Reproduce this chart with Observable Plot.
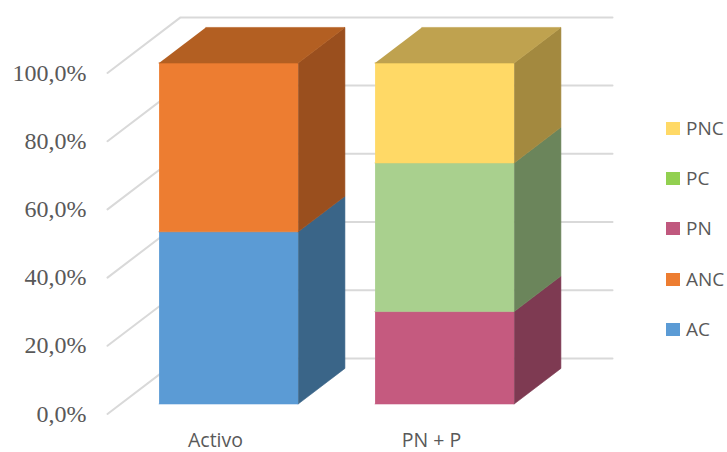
<!DOCTYPE html>
<html>
<head>
<meta charset="utf-8">
<script src="https://cdn.jsdelivr.net/npm/d3@7"></script>
<script src="https://cdn.jsdelivr.net/npm/@observablehq/plot@0.6"></script>
<style>
  body { margin: 0; background: #fff; }
  #chart { position: relative; width: 727px; height: 452px; overflow: hidden; }
  #chart svg { position: absolute; left: 0; top: 0; }
  .item { position: absolute; left: 666px; display: flex; align-items: center; white-space: nowrap;
          font-family: "Open Sans", sans-serif; font-size: 19px; color: #595959; line-height: 1; }
  .sw { width: 14px; height: 13px; margin-right: 6px; flex: none; }
</style>
</head>
<body>
<div id="chart"></div>
<script>
// Stacked shares (%) per category
const categories = ["Activo", "PN + P"];
const seriesNames = ["AC", "ANC", "PN", "PC", "PNC"];
const seriesCategory = ["Activo", "Activo", "PN + P", "PN + P", "PN + P"];
const seriesShare = [50.5, 49.5, 27.1, 43.6, 29.3];

// Face shading for each series: front, right side, top
const frontColors = ["#5B9BD5", "#ED7D31", "#C55A7F", "#A9D08E", "#FFD966"];
const sideColors = ["#3A6588", "#9A4F1E", "#7E3A52", "#6B855B", "#A3893F"];
const topColors = ["#4A7DAD", "#B35F22", "#9D4866", "#87A772", "#BFA24F"];
const legendColors = ["#5B9BD5", "#ED7D31", "#C0587E", "#92D050", "#FFD966"];

const tickValues = [0, 20, 40, 60, 80, 100];

// Oblique projection: depth d in [0,1] shifts right and up in data units
const DEPTH_X = 0.338, DEPTH_Y = 16.3;
const D_FRONT = 0.18, D_BACK = 0.82, HALF = 0.322;
const proj = (x, v, d) => ({x: x + d * DEPTH_X, y: v + d * DEPTH_Y});

// Gridlines: diagonal on the side wall, then across the back wall
const grid = [];
tickValues.forEach((v) => {
  [[0, 0], [0, 1], [categories.length, 1]].forEach(([x, d]) => {
    grid.push({id: "g" + v, ...proj(x, v, d)});
  });
});

// Polygons for each stacked segment
const faces = [];
const base = {};
seriesNames.forEach((name, i) => {
  const cat = seriesCategory[i];
  const c = categories.indexOf(cat) + 0.5;
  const y0 = base[cat] || 0;
  const y1 = y0 + seriesShare[i];
  base[cat] = y1;
  const isTop = !seriesCategory.some((k, j) => j > i && k === cat);
  const add = (key, color, pts) => pts.forEach(([x, v, d]) => faces.push({id: name + key, color, ...proj(x, v, d)}));
  add("front", frontColors[i], [[c - HALF, y0, D_FRONT], [c + HALF, y0, D_FRONT], [c + HALF, y1, D_FRONT], [c - HALF, y1, D_FRONT]]);
  add("side", sideColors[i], [[c + HALF, y0, D_FRONT], [c + HALF, y0, D_BACK], [c + HALF, y1, D_BACK], [c + HALF, y1, D_FRONT]]);
  if (isTop) add("top", topColors[i], [[c - HALF, y1, D_FRONT], [c + HALF, y1, D_FRONT], [c + HALF, y1, D_BACK], [c - HALF, y1, D_BACK]]);
});

const fmt = (v) => v.toFixed(1).replace(".", ",") + "%";

const chart = Plot.plot({
  width: 727,
  height: 452,
  marginLeft: 107,
  marginRight: 188,
  marginTop: 72.5,
  marginBottom: 38.5,
  style: {fontFamily: "'Open Sans', sans-serif", background: "#fff"},
  x: {type: "linear", domain: [0, categories.length], axis: null},
  y: {type: "linear", domain: [0, 100], axis: null},
  color: {type: "identity"},
  marks: [
    Plot.line(grid, {x: "x", y: "y", z: "id", stroke: "#D9D9D9", strokeWidth: 2}),
    Plot.line(faces, {x: "x", y: "y", z: "id", fill: "color", stroke: "color", strokeWidth: 0.6}),
    Plot.text(tickValues, {x: 0, y: (d) => d, text: fmt, textAnchor: "end", dx: -21,
      fontSize: 24, fill: "#595959"}),
    Plot.text(categories, {x: (d, i) => i + 0.5, y: 0, text: (d) => d, dy: 27,
      fontSize: 19.5, fill: "#595959"})
  ]
});

// Serif face for the percentage labels
chart.querySelectorAll("text").forEach((t) => {
  if (t.textContent.endsWith("%")) t.style.fontFamily = "'Liberation Serif', 'Times New Roman', serif";
});

const root = document.getElementById("chart");
root.appendChild(chart);

// Legend, top to bottom in reverse stacking order
seriesNames.slice().reverse().forEach((name, k) => {
  const i = seriesNames.indexOf(name);
  const item = document.createElement("div");
  item.className = "item";
  item.style.top = (119 + k * 50.2) + "px";
  item.innerHTML = `<span class="sw" style="background:${legendColors[i]}"></span><span>${name}</span>`;
  root.appendChild(item);
});
</script>
</body>
</html>
